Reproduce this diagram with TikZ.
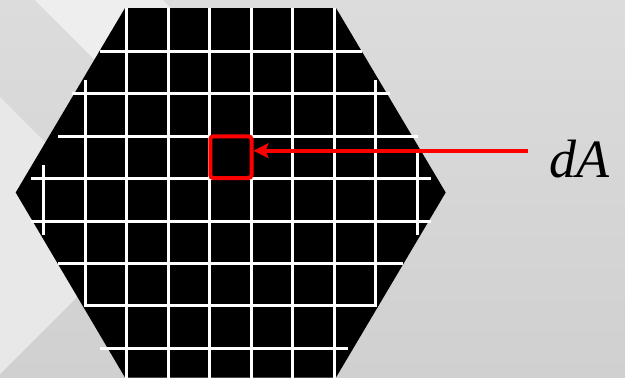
\documentclass[tikz,border=0pt]{standalone}
\usepackage{fontspec}
\setmainfont{Liberation Serif}
\usepackage{xcolor}
\definecolor{slidegray}{RGB}{220,220,220}
\definecolor{slidedark}{RGB}{208,208,208}
\definecolor{bandlight}{RGB}{238,238,238}
\definecolor{sidelight}{RGB}{232,232,232}
\usepackage{tikz}
\usetikzlibrary{
  arrows.meta,
  positioning
}

\begin{document}
\begin{tikzpicture}[
  x=1pt, y=-1pt,
  gridline/.style={white, line width=3pt},
  cellbox/.style={rectangle, draw=red, line width=4pt, rounded corners=3pt, minimum width=41.2pt, minimum height=41.7pt, inner sep=0pt},
  pointer/.style={-{Stealth[length=15pt, width=15pt, inset=3pt]}, red, line width=4pt},
  symbol/.style={font=\fontsize{54}{54}\selectfont\itshape, inner sep=0pt, anchor=base west}
]
  \useasboundingbox (0,0) rectangle (625,378);
  \shade[top color=slidegray, bottom color=slidedark] (0,0) rectangle (625,378);
  \fill[bandlight] (35,0) -- (163,0) -- (300,137) -- (172,137) -- cycle;
  \fill[sidelight] (0,97) -- (138.5,235.5) -- (0,374) -- cycle;

  \fill[black] (15.7,192.5) -- (125,8) -- (336,8) -- (445.7,192.5) -- (336,377.5) -- (125,377.5) -- cycle;

  \foreach \y/\xa/\xb in {51/100/362, 93.5/72/390, 136/58/417.5, 178.5/31/431,
                          221/31/431, 263/58/403, 305.5/84/377, 348/100/348}
    \draw[gridline] (\xa,\y) -- (\xb,\y);
  \foreach \x/\ya/\yb in {43.5/165/235, 85.5/80/307, 126.5/8/378, 168/8/378, 209.5/8/378,
                          251/8/378, 292.5/8/378, 334/8/378, 375.5/80/307, 417/150/235}
    \draw[gridline] (\x,\ya) -- (\x,\yb);

  \node[cellbox] (cell) at (230.9,157.15) {};
  \coordinate (tail) at (527.7,150.7);
  \node[symbol] (area) at (549,177.5) {dA};

  \draw[pointer] (tail) -- (tail -| cell.east);
\end{tikzpicture}
\end{document}
